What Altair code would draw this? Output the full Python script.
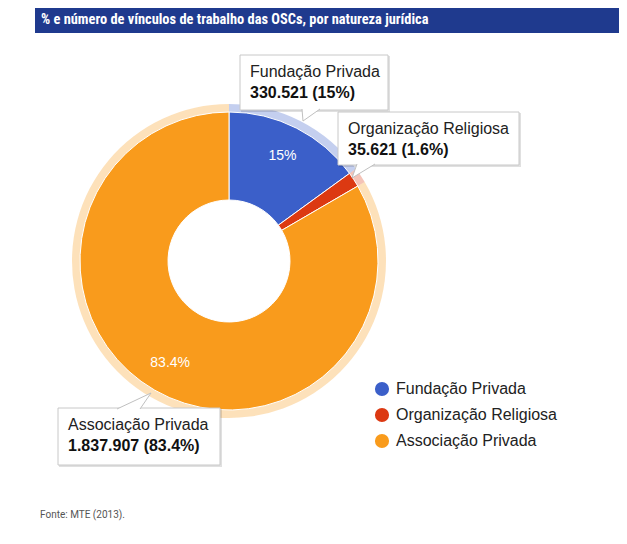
import altair as alt
import pandas as pd

# ---- data ----
categories = ["Fundação Privada", "Organização Religiosa", "Associação Privada"]
vinculos = [330521, 35621, 1837907]
slice_labels = ["15%", "", "83.4%"]
tooltip_values = ["330.521 (15%)", "35.621 (1.6%)", "1.837.907 (83.4%)"]
colors = ["#3b5fc9", "#dc3912", "#f99b1c"]

title_text = "% e número de vínculos de trabalho das OSCs, por natureza jurídica"
source_text = "Fonte: MTE (2013)."

df = pd.DataFrame({
    "cat": categories,
    "v": vinculos,
    "lab": slice_labels,
    "tip": tooltip_values,
    "idx": list(range(len(categories))),
})
one = pd.DataFrame({"a": [0]})

FONT = "Liberation Sans, Arial, sans-serif"
CX, CY = 221, 253

color_scale = alt.Scale(domain=categories, range=colors)
legend = alt.Legend(
    title=None,
    orient="none",
    legendX=366,
    legendY=373,
    symbolType="circle",
    symbolSize=200,
    symbolStrokeWidth=0,
    symbolOpacity=1,
    labelFontSize=16,
    labelFont=FONT,
    labelColor="#222222",
    labelLimit=400,
    rowPadding=10,
    labelOffset=6,
)
color_enc = alt.Color("cat:N", scale=color_scale, legend=legend, sort=categories)

base = alt.Chart(df).encode(
    theta=alt.Theta("v:Q", stack=True),
    order=alt.Order("idx:Q"),
    x=alt.value(CX),
    y=alt.value(CY),
)

halo = base.mark_arc(innerRadius=149, outerRadius=157, opacity=0.3).encode(color=color_enc)
pie = base.mark_arc(innerRadius=61, outerRadius=149, stroke="white", strokeWidth=1).encode(color=color_enc)
slice_text = base.mark_text(radius=118, color="white", fontSize=14, font=FONT).encode(
    text="lab:N"
)


def tooltip(i, x0, y0, x1, y1, px, py, path):
    shadow = alt.Chart(one).mark_rect(fill="#000000", opacity=0.12).encode(
        x=alt.value(x0 + 1), x2=alt.value(x1 + 2), y=alt.value(y0 + 1), y2=alt.value(y1 + 2)
    )
    box = alt.Chart(one).mark_rect(fill="white", stroke="#c8c8c8", strokeWidth=1).encode(
        x=alt.value(x0), x2=alt.value(x1), y=alt.value(y0), y2=alt.value(y1)
    )
    pointer = alt.Chart(one).mark_point(
        shape=path, size=4, filled=True, fill="white", stroke="#c0c0c0",
        strokeWidth=1, opacity=1, fillOpacity=1, strokeOpacity=1,
    ).encode(x=alt.value(px), y=alt.value(py))
    sub = alt.Chart(df).transform_filter(alt.datum.idx == i)
    t1 = sub.mark_text(align="left", baseline="middle", fontSize=16, font=FONT, color="#222222").encode(
        text="cat:N", x=alt.value(x0 + 10), y=alt.value(y0 + 17)
    )
    t2 = sub.mark_text(align="left", baseline="middle", fontSize=16, font=FONT, fontWeight="bold",
                       color="#111111").encode(
        text="tip:N", x=alt.value(x0 + 10), y=alt.value(y0 + 38)
    )
    return [shadow, box, pointer, t1, t2]


tips = []
tips += tooltip(0, 232, 47, 380, 102, 294, 101, "M0,0 L1,12 L18,0")
tips += tooltip(1, 330, 104, 511, 157, 349, 156, "M0,0 L-5,14 L18,0")
tips += tooltip(2, 50, 400, 212, 457, 109, 401, "M0,0 L34,-16 L23,0")

header = alt.Chart(one).mark_rect(fill="#1f3a8e").encode(
    x=alt.value(27), x2=alt.value(617), y=alt.value(0), y2=alt.value(25)
)
header_text = alt.Chart(one).mark_text(
    align="left", baseline="middle", fontSize=14.4, fontWeight="bold", color="white",
    font="Roboto Condensed, Liberation Sans Narrow, DejaVu Sans Condensed, Roboto",
    text=title_text,
).encode(x=alt.value(33), y=alt.value(12))

source = alt.Chart(one).mark_text(
    align="left", baseline="middle", fontSize=10, color="#555555", font="Roboto",
    text=source_text,
).encode(x=alt.value(32), y=alt.value(507))

chart = alt.layer(
    header, header_text, halo, pie, slice_text, *tips, source
).properties(
    width=611,
    height=528,
    autosize=alt.AutoSizeParams(type="none"),
    padding=0,
).configure_view(stroke=None)

chart.save("out.html", embed_options={"renderer": "svg", "actions": False})
